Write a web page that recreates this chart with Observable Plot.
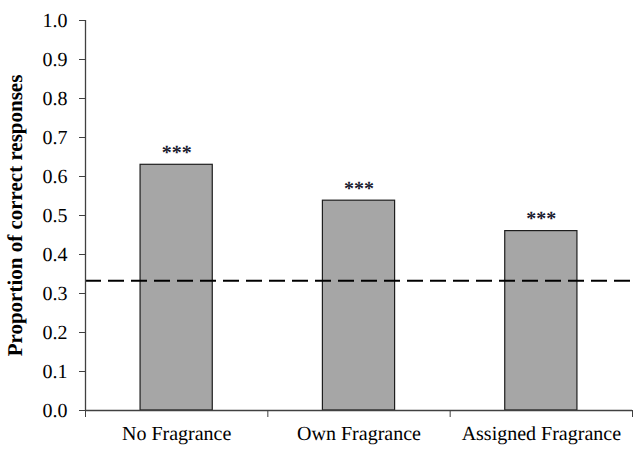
<!DOCTYPE html>
<html>
<head>
<meta charset="utf-8">
<script src="https://cdn.jsdelivr.net/npm/d3@7"></script>
<script src="https://cdn.jsdelivr.net/npm/@observablehq/plot@0.6"></script>
<style>
  html, body { margin: 0; padding: 0; background: #fff; }
  svg text { text-rendering: geometricPrecision; }
</style>
</head>
<body>
<div id="chart"></div>
<script>
const categories = ["No Fragrance", "Own Fragrance", "Assigned Fragrance"];
const proportions = [0.63, 0.538, 0.46];
const significance = ["***", "***", "***"];
const chanceLevel = 0.333;
const yTicks = [0, 0.1, 0.2, 0.3, 0.4, 0.5, 0.6, 0.7, 0.8, 0.9, 1.0];
const categoryPositions = [0, 1, 2];
const categoryBoundaries = [-0.5, 0.5, 1.5, 2.5];
const barHalfWidth = 0.198;

const data = categories.map((c, i) => ({
  category: c,
  pos: categoryPositions[i],
  value: proportions[i],
  sig: significance[i]
}));

const axisColor = "#404040";
const serif = "Liberation Serif";

const chart = Plot.plot({
  width: 638,
  height: 450,
  marginLeft: 85,
  marginRight: 6,
  marginTop: 20,
  marginBottom: 40,
  style: { fontFamily: serif, fontSize: "20px", background: "#fff" },
  x: { type: "linear", domain: [-0.5, 2.5] },
  y: { domain: [0, 1] },
  marks: [
    Plot.rectY(data, {
      x1: d => d.pos - barHalfWidth,
      x2: d => d.pos + barHalfWidth,
      y: "value",
      fill: "#a6a6a6",
      stroke: "#1e1e1e",
      strokeWidth: 1.2
    }),
    Plot.ruleY([chanceLevel], {
      stroke: "#000",
      strokeWidth: 2,
      strokeDasharray: "16,7"
    }),
    Plot.ruleY([0], { stroke: axisColor, strokeWidth: 1.3 }),
    Plot.ruleX([-0.5], { stroke: axisColor, strokeWidth: 1.3 }),
    Plot.axisY({
      ticks: yTicks,
      tickSize: 6,
      tickPadding: 12,
      tickFormat: d3.format(".1f"),
      fontSize: 20,
      fontFamily: serif,
      fontVariant: "normal",
      stroke: axisColor,
      label: null
    }),
    Plot.axisY({
      ticks: [],
      label: "Proportion of correct responses",
      labelAnchor: "center",
      labelArrow: "none",
      labelOffset: 78,
      fontSize: 21,
      fontFamily: serif,
      fontWeight: "bold"
    }),
    Plot.axisX({
      ticks: categoryBoundaries,
      tickSize: 7,
      tickFormat: () => "",
      stroke: axisColor,
      label: null
    }),
    Plot.axisX({
      ticks: categoryPositions,
      tickSize: 0,
      tickPadding: 15,
      tickFormat: i => categories[i],
      fontSize: 20,
      fontFamily: serif,
      fontVariant: "normal",
      label: null
    }),
    Plot.text(data, {
      x: "pos",
      y: "value",
      text: "sig",
      dy: -6,
      lineAnchor: "bottom",
      fontSize: 20,
      fontFamily: serif,
      fontWeight: "bold",
      fill: "#1a1a2e"
    })
  ]
});

document.getElementById("chart").append(chart);
</script>
</body>
</html>
